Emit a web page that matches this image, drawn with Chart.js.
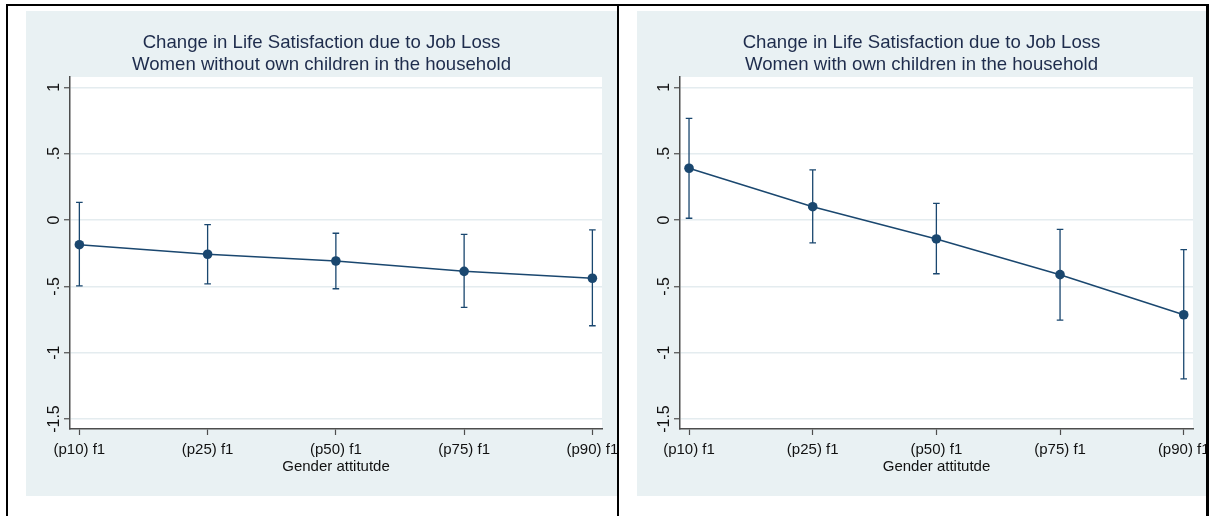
<!DOCTYPE html>
<html>
<head>
<meta charset="utf-8">
<script src="https://cdn.jsdelivr.net/npm/chart.js@4.4.0/dist/chart.umd.min.js"></script>
<style>
  html, body { margin: 0; padding: 0; background: #ffffff; }
  body { width: 1209px; height: 516px; position: relative; overflow: hidden; }
  .ln { position: absolute; background: #000; }
  .panel { position: absolute; top: 11px; height: 485px; background: #E9F1F3; }
  canvas { display: block; }
</style>
</head>
<body>
<div class="ln" style="left:6px; top:4px; width:1203px; height:2px;"></div>
<div class="ln" style="left:6px; top:4px; width:2px; height:512px;"></div>
<div class="ln" style="left:617px; top:4px; width:2px; height:512px;"></div>
<div class="ln" style="left:1206px; top:4px; width:3px; height:512px;"></div>
<div class="panel" style="left:26px; width:591px;"><canvas id="c1" width="591" height="485"></canvas></div>
<div class="panel" style="left:637px; width:569px;"><canvas id="c2" width="569" height="485"></canvas></div>
<script>
// ---- data ----
const categories = ['(p10) f1', '(p25) f1', '(p50) f1', '(p75) f1', '(p90) f1'];
const xAxisTitle = 'Gender attitutde';
const yTickValues = [-1.5, -1, -0.5, 0, 0.5, 1];
const yTickLabels = ['-1.5', '-1', '-.5', '0', '.5', '1'];

const titleNoKids = ['Change in Life Satisfaction due to Job Loss', 'Women without own children in the household'];
const estNoKids   = [-0.186, -0.258, -0.309, -0.387, -0.439];
const upperNoKids = [0.133, -0.035, -0.100, -0.108, -0.075];
const lowerNoKids = [-0.497, -0.482, -0.518, -0.658, -0.797];

const titleKids = ['Change in Life Satisfaction due to Job Loss', 'Women with own children in the household'];
const estKids   = [0.390, 0.100, -0.143, -0.412, -0.714];
const upperKids = [0.766, 0.377, 0.126, -0.070, -0.224];
const lowerKids = [0.013, -0.173, -0.405, -0.754, -1.198];

// ---- style ----
const FONT = '"Liberation Sans", Arial, Helvetica, sans-serif';
const BG = '#E9F1F3';
const NAVY = '#1A476F';
const AXIS = '#4d4d4d';
const GRID = '#E4ECEF';
const TITLE_COLOR = '#1e2c4c';

const panelPlugin = {
  id: 'panel',
  beforeDraw(chart, args, opts) {
    const ctx = chart.ctx, a = chart.chartArea;
    ctx.save();
    ctx.fillStyle = BG;
    ctx.fillRect(0, 0, chart.width, chart.height);
    ctx.fillStyle = '#ffffff';
    ctx.fillRect(a.left, a.top, a.right - a.left, a.bottom - a.top);
    ctx.fillStyle = TITLE_COLOR;
    ctx.font = '18.6px ' + FONT;
    ctx.textAlign = 'center';
    ctx.textBaseline = 'alphabetic';
    opts.title.forEach((t, i) => ctx.fillText(t, chart.width / 2, 37.3 + i * 21.7));
    ctx.restore();
  },
  beforeDatasetsDraw(chart, args, opts) {
    const ctx = chart.ctx, xs = chart.scales.x, ys = chart.scales.y;
    ctx.save();
    ctx.strokeStyle = NAVY;
    ctx.lineWidth = 1.3;
    opts.lower.forEach((lo, i) => {
      const x = xs.getPixelForValue(i);
      const y1 = ys.getPixelForValue(opts.upper[i]);
      const y2 = ys.getPixelForValue(lo);
      ctx.beginPath();
      ctx.moveTo(x, y1); ctx.lineTo(x, y2);
      ctx.moveTo(x - 3.3, y1); ctx.lineTo(x + 3.3, y1);
      ctx.moveTo(x - 3.3, y2); ctx.lineTo(x + 3.3, y2);
      ctx.stroke();
    });
    ctx.restore();
  },
  afterDraw(chart) {
    const ctx = chart.ctx, ys = chart.scales.y, a = chart.chartArea;
    ctx.save();
    ctx.fillStyle = '#111111';
    ctx.font = '16px ' + FONT;
    ctx.textAlign = 'center';
    ctx.textBaseline = 'alphabetic';
    yTickValues.forEach((v, i) => {
      const y = ys.getPixelForValue(v);
      ctx.save();
      ctx.translate(a.left - 11.5, y);
      ctx.rotate(-Math.PI / 2);
      ctx.fillText(yTickLabels[i], 0, 0);
      ctx.restore();
    });
    ctx.restore();
  }
};

function makeChart(id, title, est, lower, upper, yAxisWidth, rightPad) {
  return new Chart(document.getElementById(id), {
    type: 'line',
    data: {
      datasets: [{
        data: est.map((v, i) => ({ x: i, y: v })),
        borderColor: NAVY,
        backgroundColor: NAVY,
        borderWidth: 1.5,
        pointRadius: 4.8,
        pointBackgroundColor: NAVY,
        pointBorderColor: NAVY,
        pointBorderWidth: 0,
        tension: 0
      }]
    },
    options: {
      responsive: false,
      animation: false,
      devicePixelRatio: 1,
      layout: { padding: { top: 66, left: 0, right: rightPad, bottom: 0 } },
      plugins: {
        legend: { display: false },
        tooltip: { enabled: false },
        title: { display: false },
        panel: { title: title, lower: lower, upper: upper }
      },
      scales: {
        x: {
          type: 'linear',
          min: -0.073,
          max: 4.075,
          afterBuildTicks: s => { s.ticks = categories.map((c, i) => ({ value: i })); },
          afterFit: s => { s.height = 67; s.paddingLeft = 0; s.paddingRight = 0; },
          ticks: {
            autoSkip: false, maxRotation: 0, minRotation: 0,
            padding: 6,
            color: '#111111',
            font: { family: FONT, size: 15 },
            callback: (v) => categories[Math.round(v)]
          },
          grid: { display: true, drawOnChartArea: false, drawTicks: true, tickLength: 6, tickColor: AXIS, tickWidth: 1.2 },
          border: { display: true, color: AXIS, width: 1.5 },
          title: {
            display: true, text: xAxisTitle, color: '#111111',
            font: { family: FONT, size: 15 },
            padding: { top: 0, bottom: 20.5 }
          }
        },
        y: {
          type: 'linear',
          min: -1.575,
          max: 1.0776,
          afterBuildTicks: s => { s.ticks = yTickValues.map(v => ({ value: v })); },
          afterFit: s => { s.width = yAxisWidth; s.paddingTop = 0; s.paddingBottom = 0; },
          ticks: { display: false },
          grid: { display: true, drawOnChartArea: true, color: GRID, lineWidth: 1.5, drawTicks: true, tickLength: 6, tickColor: AXIS, tickWidth: 1.2 },
          border: { display: true, color: AXIS, width: 1.5 }
        }
      }
    },
    plugins: [panelPlugin]
  });
}

makeChart('c1', titleNoKids, estNoKids, lowerNoKids, upperNoKids, 44, 15);
makeChart('c2', titleKids, estKids, lowerKids, upperKids, 43, 13);
</script>
</body>
</html>
